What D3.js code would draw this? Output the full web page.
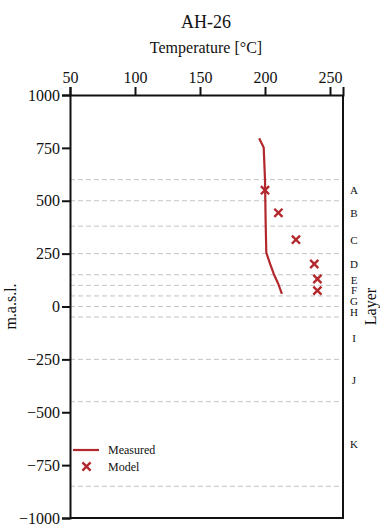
<!DOCTYPE html>
<html>
<head>
<meta charset="utf-8" />
<script src="https://d3js.org/d3.v7.min.js"></script>
<style>
body { margin: 0; background: #fff; }
svg text { font-family: "Liberation Serif", "DejaVu Serif", serif !important; fill: #111; }
</style>
</head>
<body>
<svg id="chart" width="380" height="532"></svg>
<script>
// data
var xTicks = [50, 100, 150, 200, 250];
var yTicks = [1000, 750, 500, 250, 0, -250, -500, -750, -1000];
var boundaries = [600, 500, 380, 250, 150, 100, 50, 0, -50, -250, -450, -850];
var layerNames = ["A", "B", "C", "D", "E", "F", "G", "H", "I", "J", "K"];
var measuredTemp = [195.5, 199, 200, 200.5, 201, 204, 207, 210, 213];
var measuredElev = [795, 752, 600, 400, 255, 200, 150, 110, 60];
var modelTemp = [200, 210.3, 223.8, 237.9, 240.3, 240.3];
var modelElev = [550, 443, 316, 201, 130, 75];

var red = "#b3282d";
var margin = {top: 95, left: 70, right: 343, bottom: 518};

var svg = d3.select("#chart");

var x = d3.scaleLinear().domain([50, 260]).range([margin.left, margin.right]);
var y = d3.scaleLinear().domain([-1000, 1000]).range([margin.bottom, margin.top]);

// layer boundaries
svg.append("g").selectAll("line")
    .data(boundaries)
    .enter().append("line")
    .attr("x1", margin.left).attr("x2", margin.right)
    .attr("y1", function(d){ return y(d); })
    .attr("y2", function(d){ return y(d); })
    .attr("stroke", "#c4c4c4")
    .attr("stroke-width", 1)
    .attr("stroke-dasharray", "5,3");

// layer labels
svg.append("g").selectAll("text")
    .data(layerNames)
    .enter().append("text")
    .attr("x", 354)
    .attr("y", function(d, i){ return y((boundaries[i] + boundaries[i+1]) / 2); })
    .attr("dy", "0.35em")
    .attr("text-anchor", "middle")
    .style("font-size", "11px")
    .text(function(d){ return d; });

// border right + bottom
svg.append("path")
    .attr("d", "M" + margin.right + "," + margin.top + "V" + margin.bottom + "H" + margin.left)
    .attr("fill", "none")
    .attr("stroke", "#111")
    .attr("stroke-width", 2);

// axes
var xAxis = svg.append("g")
    .attr("transform", "translate(0," + margin.top + ")")
    .call(d3.axisTop(x).tickValues(xTicks).tickSize(8).tickPadding(4));
var yAxis = svg.append("g")
    .attr("transform", "translate(" + margin.left + ",0)")
    .call(d3.axisLeft(y).tickValues(yTicks).tickSize(8).tickPadding(2)
        .tickFormat(function(d){ return d < 0 ? "\u2212" + Math.abs(d) : d; }));
[xAxis, yAxis].forEach(function(a){
    a.attr("font-family", null).attr("font-size", null);
    a.selectAll("path").attr("stroke", "#111").attr("stroke-width", 2);
    a.selectAll("line").attr("stroke", "#111").attr("stroke-width", 2);
    a.selectAll("text").style("font-size", "16px").attr("fill", "#111");
});

// measured curve
var line = d3.line()
    .x(function(d){ return x(d[0]); })
    .y(function(d){ return y(d[1]); });
svg.append("path")
    .datum(d3.zip(measuredTemp, measuredElev))
    .attr("d", line)
    .attr("fill", "none")
    .attr("stroke", red)
    .attr("stroke-width", 2.2);

// model markers
var cross = d3.symbol().type(d3.symbolX).size(45);
svg.append("g").selectAll("path")
    .data(d3.zip(modelTemp, modelElev))
    .enter().append("path")
    .attr("d", cross)
    .attr("transform", function(d){ return "translate(" + x(d[0]) + "," + y(d[1]) + ")"; })
    .attr("fill", "none")
    .attr("stroke", red)
    .attr("stroke-width", 2.4);

// legend
svg.append("line")
    .attr("x1", 73).attr("x2", 99).attr("y1", 450).attr("y2", 450)
    .attr("stroke", red).attr("stroke-width", 2.2);
svg.append("text").attr("x", 108).attr("y", 450).attr("dy", "0.35em")
    .style("font-size", "12px").text("Measured");
svg.append("path")
    .attr("d", cross)
    .attr("transform", "translate(86.5,466.5)")
    .attr("fill", "none").attr("stroke", red).attr("stroke-width", 2.4);
svg.append("text").attr("x", 108).attr("y", 467).attr("dy", "0.35em")
    .style("font-size", "12px").text("Model");

// titles
svg.append("text").attr("x", 206).attr("y", 28).attr("text-anchor", "middle")
    .style("font-size", "18px").text("AH-26");
svg.append("text").attr("x", 206).attr("y", 53).attr("text-anchor", "middle")
    .style("font-size", "16px").text("Temperature [\u00B0C]");
svg.append("text")
    .attr("transform", "translate(16," + ((margin.top + margin.bottom) / 2) + ") rotate(-90)")
    .attr("text-anchor", "middle")
    .style("font-size", "16px").text("m.a.s.l.");
svg.append("text")
    .attr("transform", "translate(376," + ((margin.top + margin.bottom) / 2) + ") rotate(-90)")
    .attr("text-anchor", "middle")
    .style("font-size", "16px").text("Layer");
</script>
</body>
</html>
